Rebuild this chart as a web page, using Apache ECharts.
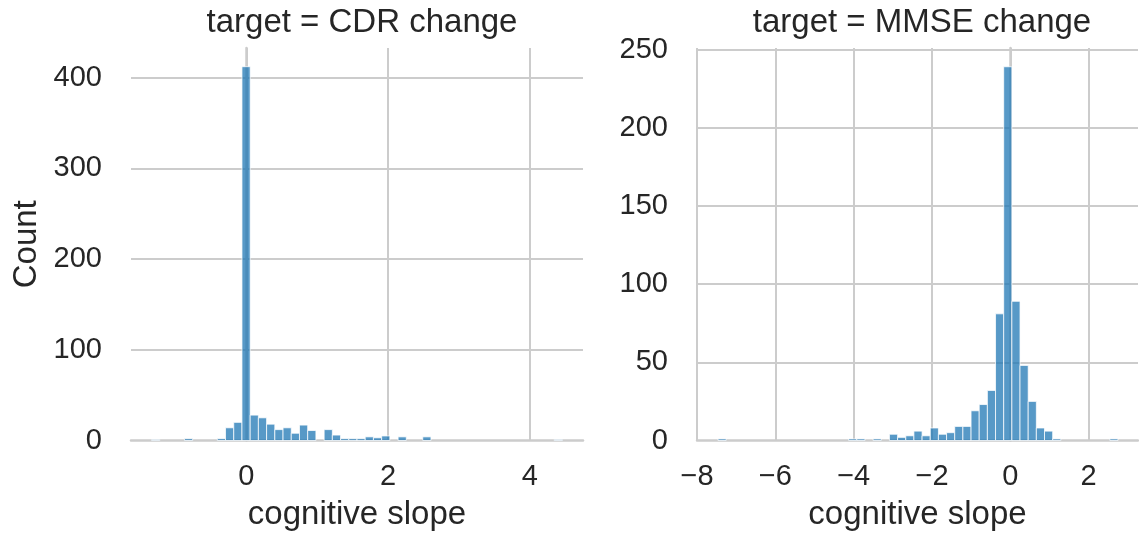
<!DOCTYPE html>
<html>
<head>
<meta charset="utf-8">
<script src="https://cdn.jsdelivr.net/npm/echarts@6/dist/echarts.min.js"></script>
<style>
html, body { margin: 0; padding: 0; background: #fff; }
#chart { width: 1139px; height: 540px; }
</style>
</head>
<body>
<div id="chart"></div>
<script>
// CDR change histogram: 50 bins
var cdrBinStart = -1.336;
var cdrBinWidth = 0.1159;
var cdrCounts = [1, 0, 0, 0, 2, 0, 0, 0, 2, 14,
                 20, 412, 28, 25, 18, 12, 14, 8, 17, 11,
                 0, 12, 6, 2, 2, 2, 4, 3, 5, 0,
                 4, 0, 0, 4, 0, 0, 0, 0, 0, 0,
                 0, 0, 0, 0, 0, 0, 0, 0, 0, 1];

// MMSE change histogram: 49 bins
var mmseBinStart = -7.463;
var mmseBinWidth = 0.2084;
var mmseCounts = [1, 0, 0, 0, 0, 0, 0, 0, 0, 0,
                  0, 0, 0, 0, 0, 0, 1, 1, 0, 1,
                  0, 4, 2, 3, 6, 3, 8, 4, 5, 9,
                  9, 19, 23, 32, 81, 239, 89, 48, 25, 8,
                  6, 1, 0, 0, 0, 0, 0, 0, 1];

var titles = ['target = CDR change', 'target = MMSE change'];
var xLabel = 'cognitive slope';
var yLabel = 'Count';

var textColor = '#262626';
var gridColor = '#cccccc';
var barFill = 'rgba(31,119,180,0.75)';
var fontName = 'Liberation Sans';

// 把计数转成 [左边界, 右边界, 计数]
function toBins(start, width, counts) {
	var out = [];
	for (var i = 0; i < counts.length; i++) {
		if (counts[i] > 0) {
			out.push([start + i * width, start + (i + 1) * width, counts[i]]);
		}
	}
	return out;
}

function renderBar(params, api) {
	var p0 = api.coord([api.value(0), api.value(2)]);
	var p1 = api.coord([api.value(1), 0]);
	return {
		type: 'rect',
		shape: { x: p0[0], y: p0[1], width: p1[0] - p0[0], height: p1[1] - p0[1] },
		style: { fill: barFill, stroke: 'rgba(255,255,255,0.75)', lineWidth: 1 }
	};
}

function minus(v) {
	return String(v).replace('-', '\u2212');
}

function xAxisOpt(idx, min, max, splitNumber, interval, showMin) {
	var ax = {
		type: 'value',
		gridIndex: idx,
		min: min,
		max: max,
		name: xLabel,
		nameLocation: 'middle',
		nameGap: 58,
		nameTextStyle: { fontFamily: fontName, fontSize: 33, color: textColor },
		axisLine: { show: true, lineStyle: { color: gridColor, width: 2.5 } },
		axisTick: { show: false },
		axisLabel: {
			fontFamily: fontName, fontSize: 29, color: textColor, margin: 22,
			showMinLabel: showMin, showMaxLabel: false,
			formatter: minus
		},
		splitLine: { show: true, showMinLine: showMin, showMaxLine: false, lineStyle: { color: gridColor, width: 2 } }
	};
	if (interval) ax.interval = interval; else ax.splitNumber = splitNumber;
	return ax;
}

function yAxisOpt(idx, max, interval, showName) {
	return {
		type: 'value',
		gridIndex: idx,
		min: 0,
		max: max,
		interval: interval,
		name: showName ? yLabel : '',
		nameLocation: 'middle',
		nameGap: 88,
		nameTextStyle: { fontFamily: fontName, fontSize: 33, color: textColor },
		axisLine: { show: true, lineStyle: { color: gridColor, width: 2.5 } },
		axisTick: { show: false },
		axisLabel: {
			fontFamily: fontName, fontSize: 29, color: textColor, margin: 29,
			showMaxLabel: false
		},
		splitLine: { show: true, showMinLine: false, showMaxLine: false, lineStyle: { color: gridColor, width: 2 } }
	};
}

var myChart = echarts.init(document.getElementById('chart'), null, { renderer: 'canvas' });
var option = {
	animation: false,
	backgroundColor: '#ffffff',
	title: [
		{ text: titles[0], left: 357, top: 1, textAlign: 'center',
		  textStyle: { fontFamily: fontName, fontSize: 33, fontWeight: 'normal', color: textColor } },
		{ text: titles[1], left: 917, top: 1, textAlign: 'center',
		  textStyle: { fontFamily: fontName, fontSize: 33, fontWeight: 'normal', color: textColor } }
	],
	grid: [
		{ left: 131, top: 48, width: 452, height: 392.5 },
		{ left: 697, top: 48, width: 441, height: 392.5 }
	],
	xAxis: [
		xAxisOpt(0, -1.626, 4.749, 3, null, false),
		xAxisOpt(1, -8, 3.26, null, 2, true)
	],
	yAxis: [
		yAxisOpt(0, 432.6, 100, true),
		yAxisOpt(1, 251, 50, false)
	],
	series: [
		{ type: 'custom', xAxisIndex: 0, yAxisIndex: 0, renderItem: renderBar,
		  encode: { x: [0, 1], y: 2 }, data: toBins(cdrBinStart, cdrBinWidth, cdrCounts) },
		{ type: 'custom', xAxisIndex: 1, yAxisIndex: 1, renderItem: renderBar,
		  encode: { x: [0, 1], y: 2 }, data: toBins(mmseBinStart, mmseBinWidth, mmseCounts) }
	]
};
myChart.setOption(option);
</script>
</body>
</html>
